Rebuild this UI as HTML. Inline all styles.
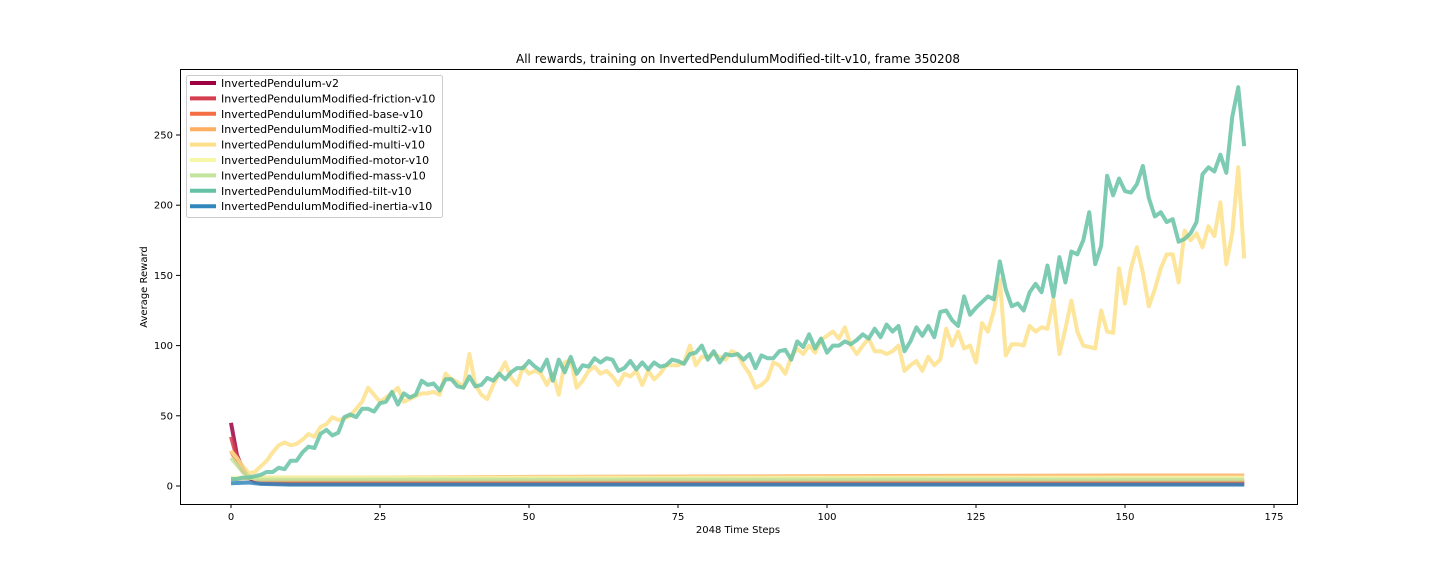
<!DOCTYPE html>
<html><head><meta charset="utf-8"><style>
body{margin:0;background:#fff;}
svg{display:block;font-family:"DejaVu Sans","Liberation Sans",sans-serif;}
</style></head><body>
<svg id="chart" width="1440" height="576">
<text x="738" y="63" font-size="12" text-anchor="middle">All rewards, training on InvertedPendulumModified-tilt-v10, frame 350208</text>
<rect x="180.5" y="69.5" width="1117" height="435" fill="none" stroke="#000" stroke-width="1"/>
<g id="ticks"></g>
<g id="series"></g>
<text x="738" y="533" font-size="10" text-anchor="middle">2048 Time Steps</text>
<text x="147" y="287" font-size="10" text-anchor="middle" transform="rotate(-90 147 287)">Average Reward</text>
<g id="legend"></g>
</svg>
<script>
const xTicks=[0,25,50,75,100,125,150,175];
const yTicks=[0,50,100,150,200,250];
const seriesNames=["InvertedPendulum-v2","InvertedPendulumModified-friction-v10","InvertedPendulumModified-base-v10","InvertedPendulumModified-multi2-v10","InvertedPendulumModified-multi-v10","InvertedPendulumModified-motor-v10","InvertedPendulumModified-mass-v10","InvertedPendulumModified-tilt-v10","InvertedPendulumModified-inertia-v10"];
const seriesColors=["#9e0142","#d53e4f","#f46d43","#fdae61","#fee08b","#f7f7a8","#c2e49c","#66c2a5","#3288bd"];
const v2X=[0,1,2,3,4,5,10,50,100,170];
const v2Y=[45,22,12,6,3,2,1.5,1.5,1.5,1.5];
const frictionX=[0,1,2,3,4,5,10,50,100,170];
const frictionY=[35,20,11,7,4,3,2.5,2.5,2.5,2.5];
const baseX=[0,1,2,3,4,5,10,50,100,170];
const baseY=[25,17,10,7,5,4,3.5,3.5,3.5,3.5];
const multi2X=[0,1,2,3,4,5,20,50,100,150,170];
const multi2Y=[5,5,5.5,5.5,6,6,6,6.5,7,7.5,7.5];
const motorX=[0,1,2,3,4,5,50,100,170];
const motorY=[6,6,6,6,6,6,6,6,6];
const massX=[0,1,2,3,4,5,10,50,100,170];
const massY=[20,15,10,7,5,4.5,4.5,4.5,4.5,4.5];
const inertiaX=[0,3,5,10,50,100,170];
const inertiaY=[2,2.5,1.5,1,1,1,1];
const tiltY=[5,5,6,6,7,8,10,10,13,12,18,18,24,28,27,37,40,36,38,49,51,49,55,55,53,59,60,67,58,66,63,65,75,72,73,68,76,76,71,70,78,71,72,77,75,80,76,81,84,84,89,85,82,90,75,90,81,92,80,86,85,91,88,91,90,82,84,89,83,88,83,88,85,86,90,89,87,94,95,100,90,96,88,94,93,94,90,94,84,93,91,91,96,97,90,103,99,108,98,105,95,100,100,103,101,104,108,105,112,106,115,110,114,96,103,113,107,114,106,124,125,118,114,135,122,127,131,135,133,160,140,128,130,125,138,144,138,157,135,163,145,167,165,175,195,158,171,221,207,219,210,209,215,228,205,192,195,188,190,174,176,180,188,222,227,224,236,223,263,284,242];
const multiY=[25,20,14,9,10,14,18,24,29,31,29,30,33,37,35,42,44,49,47,48,50,55,60,70,65,60,63,66,70,60,62,64,66,66,67,65,80,76,74,70,94,72,65,62,72,80,88,77,72,85,80,82,80,72,80,65,88,90,70,75,82,85,80,82,78,72,80,78,82,72,82,76,80,86,86,86,88,100,86,92,92,94,92,90,96,94,86,80,70,72,76,88,86,80,92,98,94,100,95,104,107,110,105,113,100,94,100,105,96,96,94,96,100,82,86,89,82,92,86,90,112,100,110,98,100,88,116,110,125,147,93,101,101,100,114,110,113,112,133,94,112,132,110,100,99,98,125,110,109,155,130,155,170,152,128,140,155,165,165,145,182,175,180,170,185,178,202,158,180,227,162];
const X=v=>231+v*5.96, Y=v=>486-v*1.404;
const NS="http://www.w3.org/2000/svg";
function mk(t,a){const e=document.createElementNS(NS,t);for(const k in a)e.setAttribute(k,a[k]);return e;}
const tk=document.getElementById('ticks');
xTicks.forEach(t=>{
 const l=mk('line',{x1:X(t),x2:X(t),y1:504,y2:508,stroke:'#000'});
 
 
 tk.appendChild(l);
 const s=mk('text',{x:X(t),y:520,'font-size':10,'text-anchor':'middle'});s.textContent=t;
 
 
 tk.appendChild(s);
});
yTicks.forEach(t=>{
 const l=mk('line',{x1:176,x2:180,y1:Y(t),y2:Y(t),stroke:'#000'});
 
 
 tk.appendChild(l);
 const s=mk('text',{x:173,y:Y(t)+3.5,'font-size':10,'text-anchor':'end'});s.textContent=t;
 
 
 tk.appendChild(s);
});
const idx=tiltY.map((_,i)=>i);
const data=[[v2X,v2Y],[frictionX,frictionY],[baseX,baseY],[multi2X,multi2Y],[idx,multiY],[motorX,motorY],[massX,massY],[idx,tiltY],[inertiaX,inertiaY]];
const order=[0,1,2,3,4,5,6,7,8];
const sg=document.getElementById('series');
order.forEach(i=>{
 const [xs,ys]=data[i];
 const p=mk('polyline',{points:xs.map((x,j)=>X(x)+','+Y(ys[j])).join(' '),fill:'none',stroke:seriesColors[i],'stroke-width':4,'stroke-linejoin':'round','stroke-opacity':0.85});
 
 
 sg.appendChild(p);
});
const lg=document.getElementById('legend');
const box=mk('rect',{x:186.5,y:75.5,width:256,height:142,fill:'#fff','fill-opacity':0.8,stroke:'#ccc',rx:2});


lg.appendChild(box);
seriesNames.forEach((n,i)=>{
 const y=83+i*15.4;
 const l=mk('line',{x1:190,x2:216,y1:y,y2:y,stroke:seriesColors[i],'stroke-width':4});
 
 
 lg.appendChild(l);
 const t=mk('text',{x:221,y:y+4,'font-size':11});t.textContent=n;
 
 
 lg.appendChild(t);
});
</script>
</body></html>
